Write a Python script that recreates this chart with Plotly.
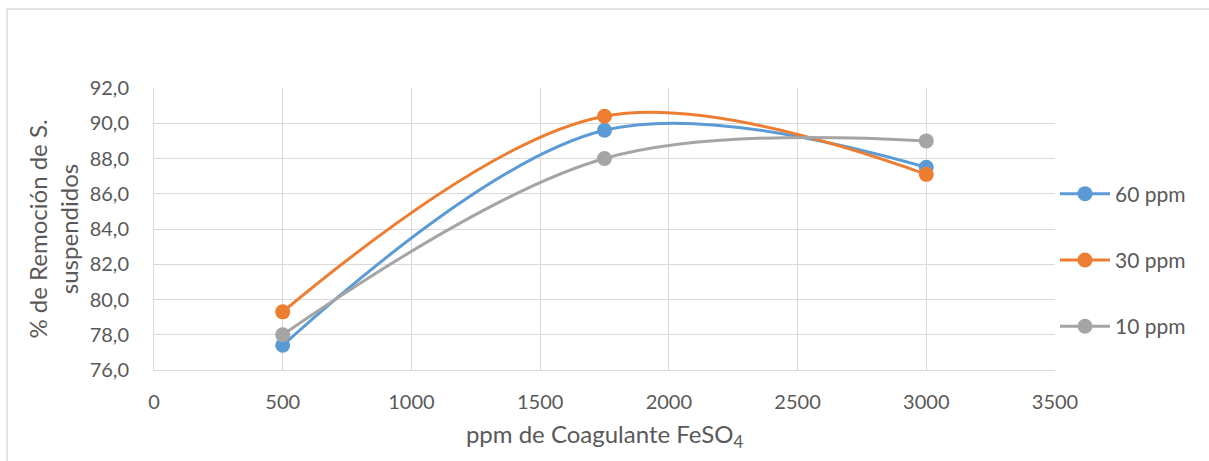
import plotly.graph_objects as go

# Coagulant dose (ppm FeSO4) and % removal of suspended solids per series
dosis = [500, 1750, 3000]
series_names = ["60 ppm", "30 ppm", "10 ppm"]
remocion_60 = [77.4, 89.6, 87.5]
remocion_30 = [79.3, 90.4, 87.1]
remocion_10 = [78.0, 88.0, 89.0]
colors = ["#5B9BD5", "#ED7D31", "#A5A5A5"]

x_ticks = [0, 500, 1000, 1500, 2000, 2500, 3000, 3500]
y_ticks = [76, 78, 80, 82, 84, 86, 88, 90, 92]

FONT = "Lato, 'Open Sans', sans-serif"
TEXT = "#595959"
GRID = "#D9D9D9"

fig = go.Figure()
for name, vals, col in zip(series_names, [remocion_60, remocion_30, remocion_10], colors):
    fig.add_trace(go.Scatter(
        x=dosis, y=vals, name=name, legendgroup=name,
        mode="lines+markers",
        line=dict(color=col, width=3, shape="spline", smoothing=1.0),
        marker=dict(color=col, size=15),
    ))

L, R, T, B = 154, 154, 88, 91
W, H = 1209, 461
pw, ph = W - L - R, H - T - B

fig.update_layout(
    width=W, height=H,
    margin=dict(l=L, r=R, t=T, b=B),
    paper_bgcolor="white", plot_bgcolor="white",
    separators=",.",
    font=dict(family=FONT, size=20, color=TEXT),
    showlegend=True,
    legend=dict(
        x=1.0, xanchor="left", y=(H - B - 260) / ph, yanchor="middle",
        font=dict(family=FONT, size=21, color=TEXT),
        tracegroupgap=36, itemwidth=50,
        bgcolor="rgba(0,0,0,0)",
    ),
    xaxis=dict(
        range=[0, 3500], tickvals=x_ticks, tickformat="d",
        showgrid=True, gridcolor=GRID, gridwidth=1,
        zeroline=False, showline=True, linecolor=GRID, linewidth=1,
        ticks="", ticklabelstandoff=14,
        tickfont=dict(family=FONT, size=20, color=TEXT),
        title=dict(text="ppm de Coagulante FeSO<sub>4</sub>", standoff=14,
                   font=dict(family=FONT, size=24, color=TEXT)),
    ),
    yaxis=dict(
        range=[76, 92], tickvals=y_ticks, tickformat=".1f",
        showgrid=True, gridcolor=GRID, gridwidth=1,
        zeroline=False, showline=True, linecolor=GRID, linewidth=1,
        ticks="", ticklabelstandoff=20,
        tickfont=dict(family=FONT, size=20, color=TEXT),
        title=dict(text="% de Remoción de S.<br>suspendidos", standoff=4,
                   font=dict(family=FONT, size=24, color=TEXT)),
    ),
    shapes=[
        # outer chart frame (left and top edges)
        dict(type="line", xref="paper", yref="paper",
             x0=(7 - L) / pw, x1=(7 - L) / pw, y0=(H - B - 9) / ph, y1=(H - B - H) / ph,
             line=dict(color=GRID, width=1.5)),
        dict(type="line", xref="paper", yref="paper",
             x0=(7 - L) / pw, x1=(W - L) / pw, y0=(H - B - 9) / ph, y1=(H - B - 9) / ph,
             line=dict(color=GRID, width=1.5)),
    ],
)

fig.write_html("out.html")
